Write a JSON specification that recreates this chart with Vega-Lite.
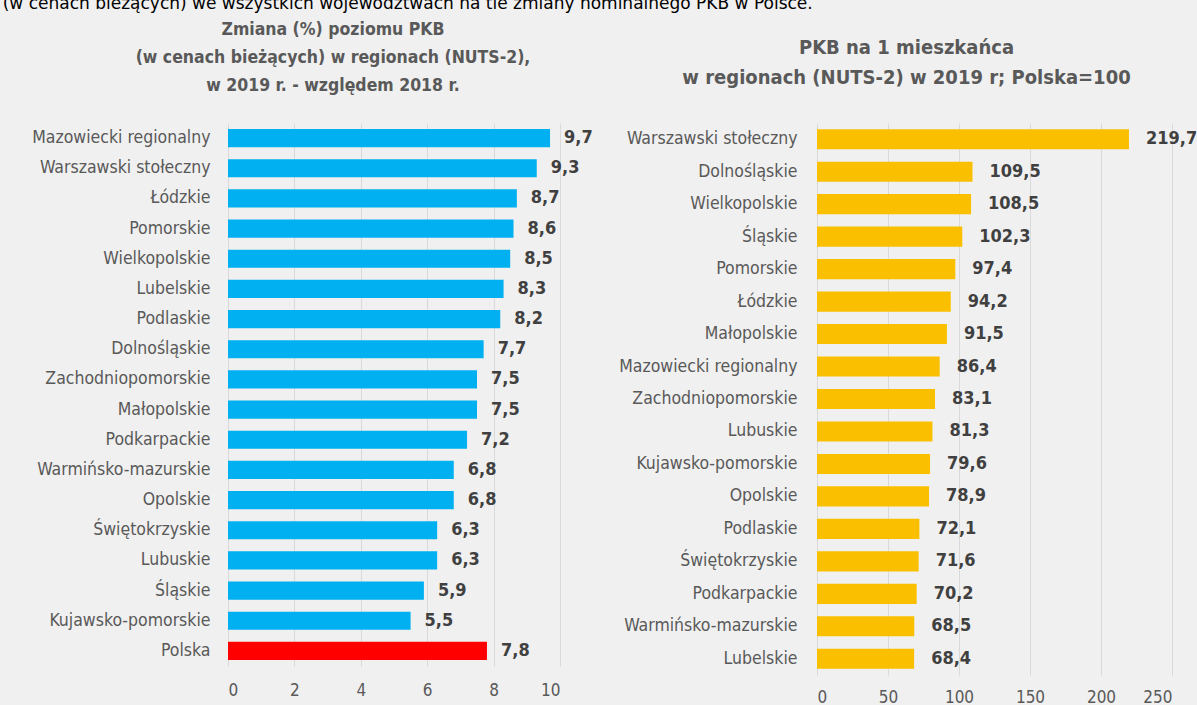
{
  "$schema": "https://vega.github.io/schema/vega-lite/v6.json",
  "background": "#f0f0f0",
  "padding": {"left": 2, "top": -6, "right": 0, "bottom": 0},
  "config": {
    "locale": {"number": {"decimal": ",", "thousands": " ", "grouping": [3], "currency": ["", " zł"]}},
    "view": {"stroke": null},
    "font": "DejaVu Sans Condensed, Liberation Sans, sans-serif"
  },
  "title": {
    "text": "(w cenach bieżących) we wszystkich województwach na tle zmiany nominalnego PKB w Polsce.",
    "font": "DejaVu Sans", "fontSize": 17, "fontWeight": "normal", "color": "#000000",
    "anchor": "start", "frame": "bounds", "offset": 8, "dx": -29
  },
  "datasets": {
    "zmiana": [
      {"region": "Mazowiecki regionalny", "wartosc": 9.7},
      {"region": "Warszawski stołeczny", "wartosc": 9.3},
      {"region": "Łódzkie", "wartosc": 8.7},
      {"region": "Pomorskie", "wartosc": 8.6},
      {"region": "Wielkopolskie", "wartosc": 8.5},
      {"region": "Lubelskie", "wartosc": 8.3},
      {"region": "Podlaskie", "wartosc": 8.2},
      {"region": "Dolnośląskie", "wartosc": 7.7},
      {"region": "Zachodniopomorskie", "wartosc": 7.5},
      {"region": "Małopolskie", "wartosc": 7.5},
      {"region": "Podkarpackie", "wartosc": 7.2},
      {"region": "Warmińsko-mazurskie", "wartosc": 6.8},
      {"region": "Opolskie", "wartosc": 6.8},
      {"region": "Świętokrzyskie", "wartosc": 6.3},
      {"region": "Lubuskie", "wartosc": 6.3},
      {"region": "Śląskie", "wartosc": 5.9},
      {"region": "Kujawsko-pomorskie", "wartosc": 5.5},
      {"region": "Polska", "wartosc": 7.8}
    ],
    "pkb": [
      {"region": "Warszawski stołeczny", "wartosc": 219.7},
      {"region": "Dolnośląskie", "wartosc": 109.5},
      {"region": "Wielkopolskie", "wartosc": 108.5},
      {"region": "Śląskie", "wartosc": 102.3},
      {"region": "Pomorskie", "wartosc": 97.4},
      {"region": "Łódzkie", "wartosc": 94.2},
      {"region": "Małopolskie", "wartosc": 91.5},
      {"region": "Mazowiecki regionalny", "wartosc": 86.4},
      {"region": "Zachodniopomorskie", "wartosc": 83.1},
      {"region": "Lubuskie", "wartosc": 81.3},
      {"region": "Kujawsko-pomorskie", "wartosc": 79.6},
      {"region": "Opolskie", "wartosc": 78.9},
      {"region": "Podlaskie", "wartosc": 72.1},
      {"region": "Świętokrzyskie", "wartosc": 71.6},
      {"region": "Podkarpackie", "wartosc": 70.2},
      {"region": "Warmińsko-mazurskie", "wartosc": 68.5},
      {"region": "Lubelskie", "wartosc": 68.4}
    ]
  },
  "bounds": "flush",
  "spacing": 257,
  "hconcat": [
    {
      "width": 332,
      "height": 543,
      "data": {"name": "zmiana"},
      "title": {
        "text": ["Zmiana (%) poziomu PKB", "(w cenach bieżących) w regionach (NUTS-2),", "w 2019 r. - względem 2018 r."],
        "fontSize": 17.5, "fontWeight": "bold", "color": "#595959", "lineHeight": 28,
        "anchor": "middle", "frame": "group", "dx": -61, "offset": 29
      },
      "encoding": {
        "y": {
          "field": "region", "type": "nominal", "sort": null,
          "scale": {"paddingInner": 0.4, "paddingOuter": 0.2},
          "axis": {"title": null, "ticks": false, "domain": false, "labelFontSize": 17.5, "labelColor": "#595959", "labelPadding": 18, "labelLimit": 400}
        },
        "x": {
          "field": "wartosc", "type": "quantitative",
          "scale": {"domain": [0, 10], "nice": false},
          "axis": {"title": null, "values": [0, 2, 4, 6, 8, 10], "ticks": false, "domain": false, "grid": true, "gridColor": "#d9d9d9", "labelFontSize": 17, "labelColor": "#595959", "labelPadding": 16}
        }
      },
      "layer": [
        {
          "mark": {"type": "bar"},
          "encoding": {
            "color": {"condition": {"test": "datum.region === 'Polska'", "value": "#ff0000"}, "value": "#00b0f0"}
          }
        },
        {
          "mark": {"type": "text", "align": "left", "baseline": "middle", "dx": 14, "fontWeight": "bold", "fontSize": 18, "color": "#404040"},
          "encoding": {"text": {"field": "wartosc", "type": "quantitative", "format": ".1f"}}
        }
      ]
    },
    {
      "width": 355,
      "height": 552,
      "data": {"name": "pkb"},
      "title": {
        "text": ["PKB na 1 mieszkańca", "w regionach (NUTS-2) w 2019  r; Polska=100"],
        "fontSize": 20, "fontWeight": "bold", "color": "#595959", "lineHeight": 30,
        "anchor": "middle", "frame": "group", "dx": -88, "offset": 35
      },
      "encoding": {
        "y": {
          "field": "region", "type": "nominal", "sort": null,
          "scale": {"paddingInner": 0.38, "paddingOuter": 0.19},
          "axis": {"title": null, "ticks": false, "domain": false, "labelFontSize": 17.5, "labelColor": "#595959", "labelPadding": 20, "labelLimit": 400}
        },
        "x": {
          "field": "wartosc", "type": "quantitative",
          "scale": {"domain": [0, 250], "nice": false},
          "axis": {"title": null, "values": [0, 50, 100, 150, 200, 250], "ticks": false, "domain": false, "grid": true, "gridColor": "#d9d9d9", "labelFontSize": 17, "labelColor": "#595959", "labelPadding": 14}
        }
      },
      "layer": [
        {
          "mark": {"type": "bar", "color": "#fac000"}
        },
        {
          "mark": {"type": "text", "align": "left", "baseline": "middle", "dx": 17, "fontWeight": "bold", "fontSize": 18, "color": "#404040"},
          "encoding": {"text": {"field": "wartosc", "type": "quantitative", "format": ".1f"}}
        }
      ]
    }
  ]
}
